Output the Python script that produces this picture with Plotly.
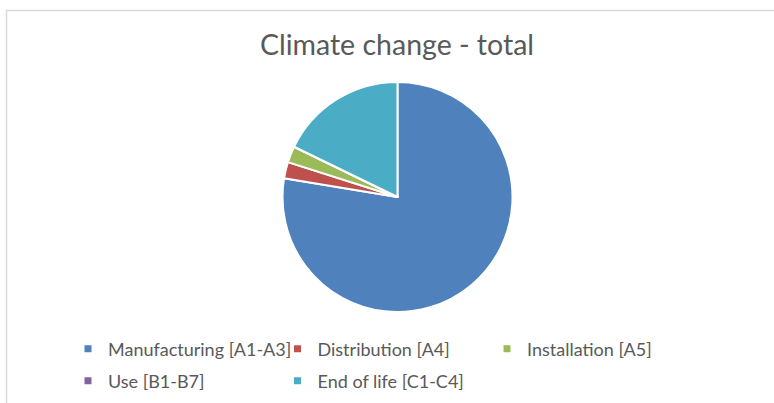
import plotly.graph_objects as go

categories = ["Manufacturing [A1-A3]", "Distribution [A4]", "Installation [A5]",
              "Use [B1-B7]", "End of life [C1-C4]"]
values = [77.6, 2.3, 2.3, 0.0, 17.8]
colors = ["#4F81BD", "#C0504D", "#9BBB59", "#8064A2", "#4BACC6"]
legend_rows = ["legend", "legend", "legend", "legend2", "legend2"]

W, H = 774, 403
cx, cy, r = 397.5, 197, 115

fig = go.Figure()
fig.add_trace(go.Pie(
    labels=categories, values=values, sort=False, direction="clockwise",
    rotation=0, marker=dict(colors=colors, line=dict(color="white", width=2)),
    textinfo="none", hoverinfo="label+value", showlegend=False,
    domain=dict(x=[(cx - r) / W, (cx + r) / W], y=[(H - cy - r) / H, (H - cy + r) / H]),
))
for name, col, lg in zip(categories, colors, legend_rows):
    fig.add_trace(go.Scatter(x=[None], y=[None], mode="markers", name=name, legend=lg,
                             marker=dict(symbol="square", size=7, color=col)))

leg_common = dict(orientation="h", xanchor="left", yanchor="middle",
                  entrywidth=164.5, entrywidthmode="pixels", traceorder="normal",
                  font=dict(family="Lato", size=18, color="#595959"),
                  itemwidth=30, bgcolor="rgba(0,0,0,0)")

fig.update_layout(
    width=W, height=H, margin=dict(l=0, r=0, t=0, b=0),
    paper_bgcolor="white", plot_bgcolor="white",
    xaxis=dict(visible=False), yaxis=dict(visible=False),
    title=dict(text="Climate change - total", x=397 / W, xanchor="center", y=1 - 45 / H, yanchor="middle",
               font=dict(family="Lato", size=28.5, color="#595959")),
    legend=dict(x=68 / W, y=1 - 349 / H, **leg_common),
    legend2=dict(x=68 / W, y=1 - 381 / H, **leg_common),
    shapes=[
        dict(type="line", xref="paper", yref="paper", x0=6 / W, x1=1, y0=1 - 10.5 / H, y1=1 - 10.5 / H,
             line=dict(color="#D9D9D9", width=1.5)),
        dict(type="line", xref="paper", yref="paper", x0=6.5 / W, x1=6.5 / W, y0=0, y1=1 - 10 / H,
             line=dict(color="#D9D9D9", width=1.5)),
    ],
)
fig.write_html("out.html", config={"displayModeBar": False},
               post_script="document.body.style.margin='0';document.body.style.overflow='hidden';")
